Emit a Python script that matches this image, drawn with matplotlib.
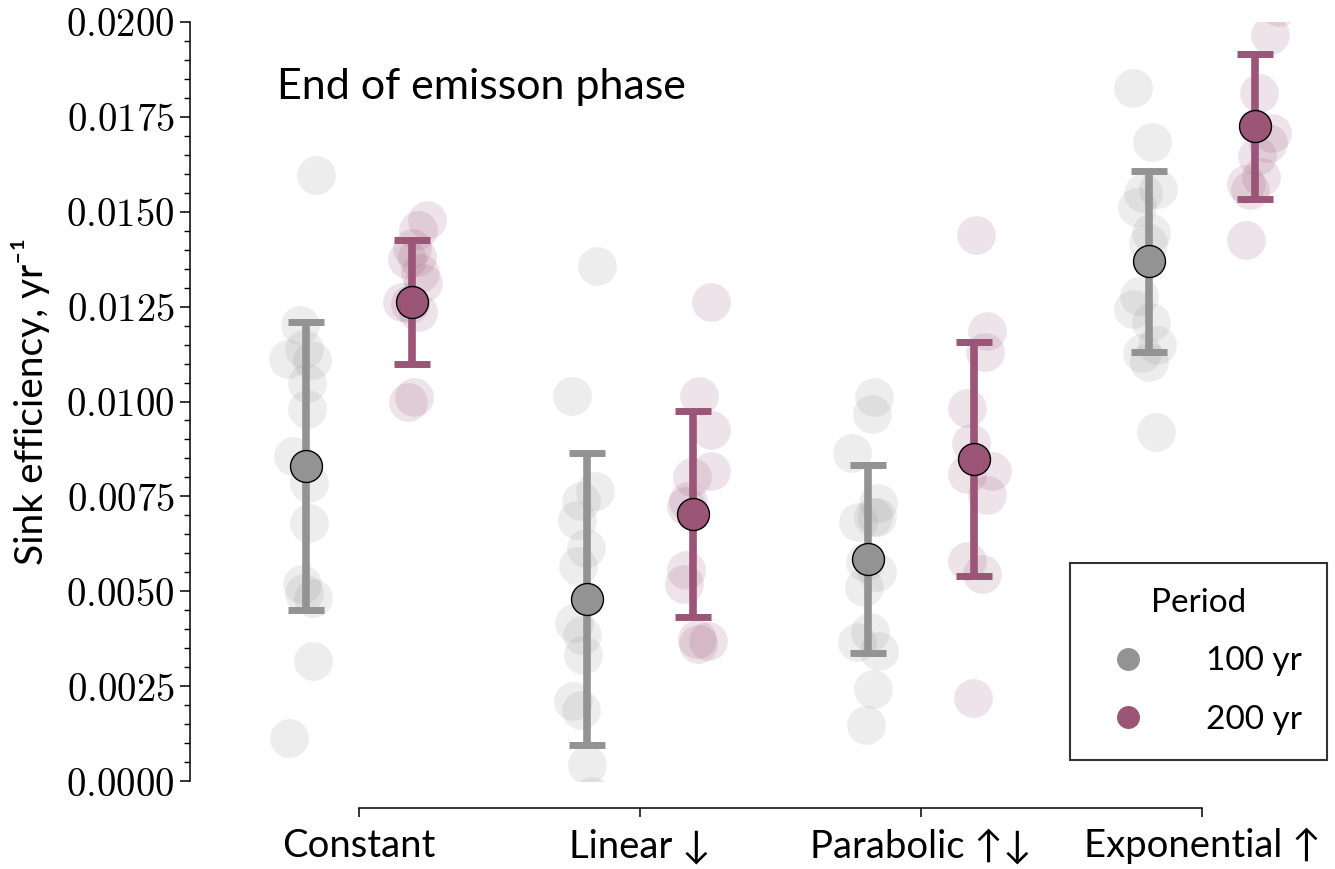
import numpy as np
import matplotlib
matplotlib.use("Agg")
from matplotlib import pyplot as plt
from matplotlib.ticker import MultipleLocator, AutoMinorLocator, FuncFormatter
from matplotlib.lines import Line2D

plt.rcParams['font.family'] = ['Lato', 'DejaVu Sans']
plt.rcParams['mathtext.fontset'] = 'cm'

categories = ['Constant', 'Linear ↓', 'Parabolic ↑↓', 'Exponential ↑']
periods = ['100 yr', '200 yr']
colors = ['#939393', '#9b5577']

# individual runs (value, jitter in category units)
vals_100 = [
    [0.01597, 0.01202, 0.01138, 0.01112, 0.01110, 0.01049, 0.00980, 0.00856,
     0.00785, 0.00680, 0.00519, 0.00495, 0.00482, 0.00316, 0.00113],
    [0.01358, 0.01014, 0.00764, 0.00737, 0.00687, 0.00614, 0.00566, 0.00416,
     0.00385, 0.00332, 0.00211, 0.00187, 0.00042, -0.00040],
    [0.01012, 0.00967, 0.00864, 0.00733, 0.00696, 0.00696, 0.00682, 0.00577,
     0.00551, 0.00511, 0.00393, 0.00366, 0.00343, 0.00242, 0.00148],
    [0.01826, 0.01684, 0.01560, 0.01549, 0.01513, 0.01444, 0.01418, 0.01278,
     0.01244, 0.01210, 0.01149, 0.01128, 0.01104, 0.00920],
]
jit_100 = [
    [0.036, -0.021, -0.004, -0.064, 0.021, 0.004, 0.004, -0.046,
     0.011, 0.011, -0.014, -0.007, 0.028, 0.025, -0.060],
    [0.036, -0.053, 0.028, -0.021, -0.036, -0.004, -0.032, -0.046,
     -0.018, -0.014, -0.050, -0.021, 0.0, 0.018],
    [0.021, 0.014, -0.057, 0.036, 0.018, 0.032, -0.036, -0.011,
     0.032, -0.014, 0.007, -0.039, 0.039, 0.018, -0.007],
    [-0.057, 0.011, 0.032, -0.021, -0.043, 0.007, -0.004, -0.036,
     -0.057, 0.007, 0.028, -0.025, 0.0, 0.025],
]
vals_200 = [
    [0.01478, 0.01452, 0.01375, 0.01381, 0.01339, 0.01312, 0.01262, 0.01236,
     0.01012, 0.00999, 0.01257, 0.01404],
    [0.01262, 0.01014, 0.00925, 0.00817, 0.00801, 0.00738, 0.00725, 0.00556,
     0.00519, 0.00374, 0.00361, 0.00369],
    [0.01439, 0.01186, 0.01130, 0.00983, 0.00891, 0.00817, 0.00809, 0.00754,
     0.00580, 0.00545, 0.00219],
    [0.02040, 0.01966, 0.01813, 0.01707, 0.01681, 0.01647, 0.01592, 0.01573,
     0.01557, 0.01426],
]
jit_200 = [
    [0.053, 0.021, -0.018, 0.018, 0.028, 0.036, -0.036, 0.021, 0.004, -0.014, -0.007, 0.0],
    [0.064, 0.021, 0.064, 0.064, -0.004, -0.021, -0.025, -0.025, -0.032, 0.014, 0.018, 0.053],
    [0.004, 0.046, 0.039, -0.025, -0.011, 0.064, -0.028, 0.046, -0.028, 0.028, -0.004],
    [0.082, 0.050, 0.011, 0.060, 0.046, 0.004, 0.021, -0.032, -0.018, -0.032],
]

# group means and standard deviations
mean_100 = [0.00830, 0.00480, 0.00585, 0.01369]
sd_100 = [0.00379, 0.00385, 0.00248, 0.00239]
mean_200 = [0.01263, 0.00704, 0.00849, 0.01725]
sd_200 = [0.00163, 0.00272, 0.00309, 0.00191]

W, H = 1335, 869
fig = plt.figure(figsize=(W / 100, H / 100), dpi=100)
ax = fig.add_axes([218.5 / W, 88 / H, (W - 218.5) / W, 759 / H])

dodge = [-0.19, 0.19]
groups = [(vals_100, jit_100, mean_100, sd_100), (vals_200, jit_200, mean_200, sd_200)]
for k, (vals, jits, means, sds) in enumerate(groups):
    for i in range(len(categories)):
        xs = i + dodge[k] + np.array(jits[i])
        ax.scatter(xs, vals[i], s=780, color=colors[k], alpha=0.16,
                   linewidths=0, zorder=1)
    xc = np.arange(len(categories)) + dodge[k]
    ax.errorbar(xc, means, yerr=sds, fmt='none', ecolor=colors[k],
                elinewidth=5.5, capsize=13, capthick=5, zorder=3)
    ax.plot(xc, means, 'o', ls='none', ms=23, mfc=colors[k], mec='black',
            mew=1.0, zorder=4)

ax.set_xlim(-0.5, 3.473)
ax.set_ylim(0, 0.02)
ax.set_xticks(range(len(categories)))
ax.set_xticklabels(categories)
ax.yaxis.set_major_locator(MultipleLocator(0.0025))
ax.yaxis.set_minor_locator(AutoMinorLocator(5))
ax.yaxis.set_major_formatter(FuncFormatter(lambda v, p: '$%.4f$' % v))
ax.tick_params(axis='y', which='major', labelsize=28, length=7, width=1.1, pad=4)
ax.tick_params(axis='y', which='minor', length=4, width=1.0)
ax.tick_params(axis='x', which='major', labelsize=27.5, length=6.5, width=1.1, pad=8)

for s in ['top', 'right']:
    ax.spines[s].set_visible(False)
ax.spines['left'].set_position(('outward', 20.5))
ax.spines['bottom'].set_position(('outward', 19.4))
ax.spines['left'].set_bounds(0, 0.02)
ax.spines['bottom'].set_bounds(0, 3)
for s in ['left', 'bottom']:
    ax.spines[s].set_linewidth(1.1)

ax.set_ylabel('Sink efficiency, yr⁻¹', fontsize=28)
ax.yaxis.set_label_coords(-0.1505, 0.5)

ax.text(0.0524, 0.8986, 'End of emisson phase', transform=ax.transAxes,
        fontsize=31, ha='left', va='baseline')

handles = [Line2D([], [], marker='o', ls='none', ms=15.5, mfc=c, mec=c)
           for c in colors]
leg = ax.legend(handles, periods, title='Period', loc='lower right',
                bbox_to_anchor=(0.993, 0.028), borderaxespad=0,
                fontsize=24, title_fontsize=24, fancybox=False,
                handlelength=2.0, handletextpad=1.35, borderpad=0.75,
                labelspacing=0.85, framealpha=1)
leg.get_frame().set_edgecolor('#333333')
leg.get_frame().set_linewidth(1.5)

fig.savefig('out.png', dpi=100)
